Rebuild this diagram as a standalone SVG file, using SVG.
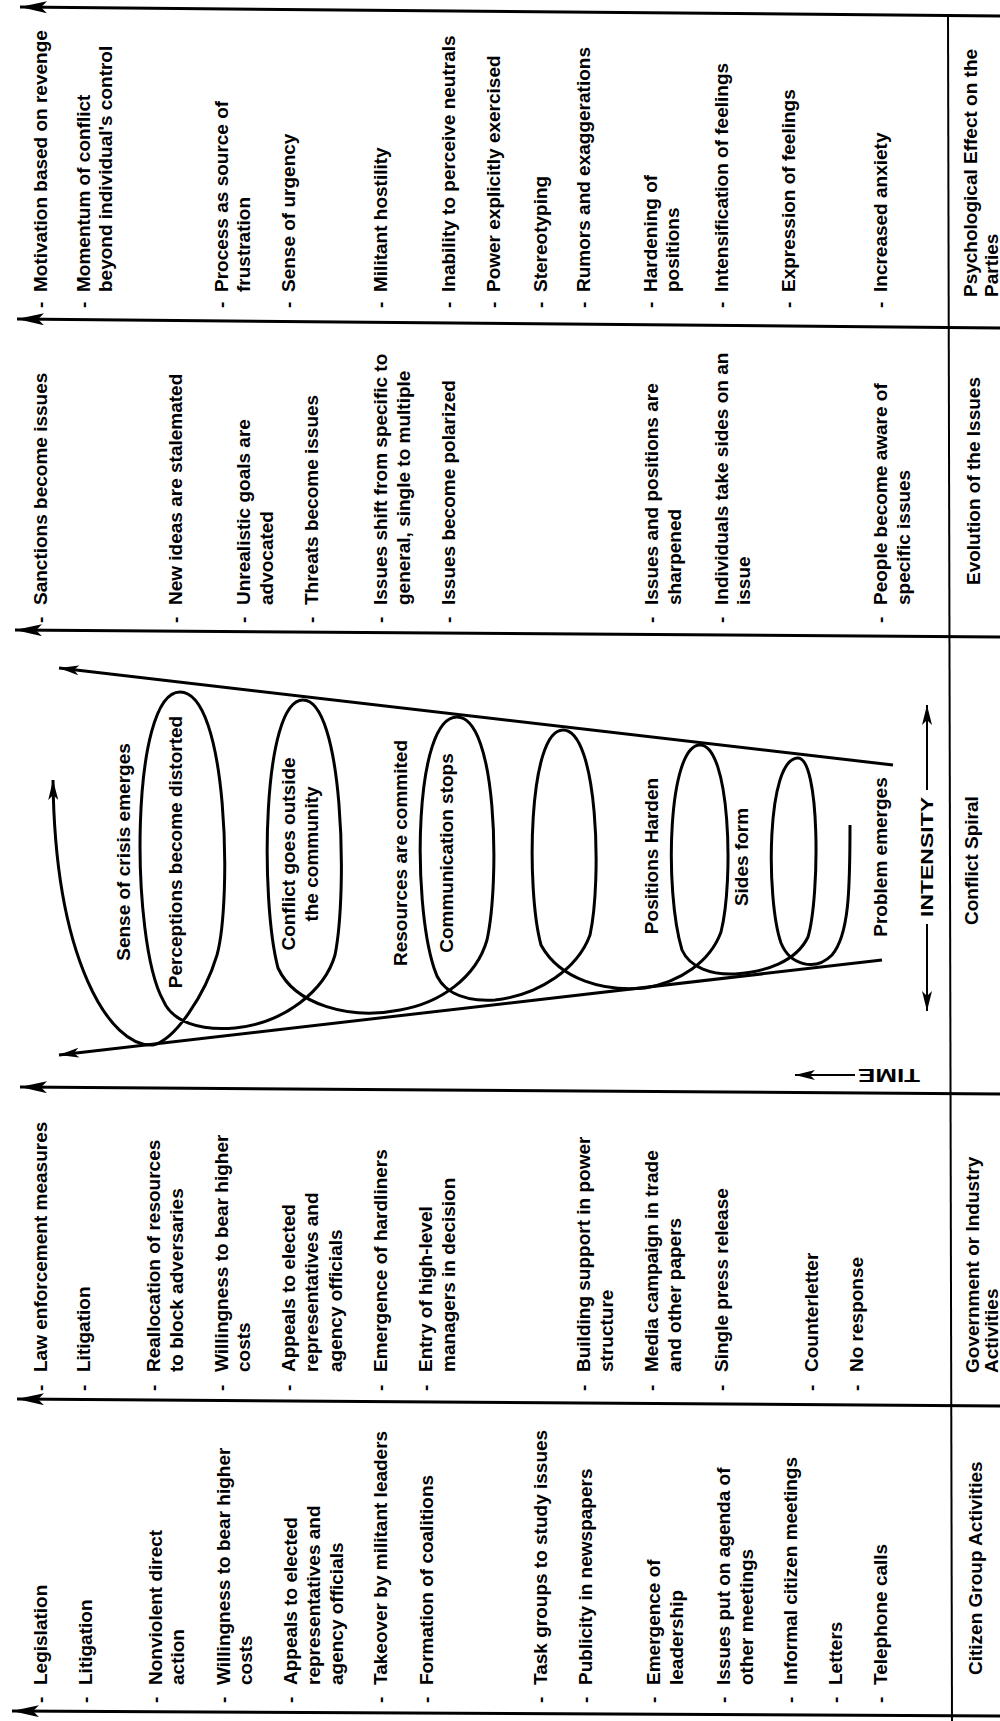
<svg xmlns="http://www.w3.org/2000/svg" width="1000" height="1721" viewBox="0 0 1000 1721">
<defs>
<style>
.t{font-family:"Liberation Sans",Arial,sans-serif;font-size:19px;font-weight:bold;fill:#000}
.m{text-anchor:middle}
.rule{stroke:#000;stroke-width:3;fill:none}
.sp{stroke:#000;stroke-width:3;fill:none;stroke-linejoin:round}
.thin{stroke:#000;stroke-width:2;fill:none}
</style>
<marker id="big" viewBox="0 0 27 12" refX="27" refY="6" markerWidth="27" markerHeight="12" markerUnits="userSpaceOnUse" orient="auto"><path d="M0,0 L27,6 L0,12 L6,6 Z" fill="#000"/></marker>
<marker id="sm" viewBox="0 0 20 10" refX="20" refY="5" markerWidth="20" markerHeight="10" markerUnits="userSpaceOnUse" orient="auto"><path d="M0,0 L20,5 L0,10 L5,5 Z" fill="#000"/></marker>
</defs>
<rect width="1000" height="1721" fill="#fff"/>

<g id="connectors">
<path class="rule" d="M1000,16 L20,7" marker-end="url(#big)"/>
<path class="rule" d="M1000,328 L17,319" marker-end="url(#big)"/>
<path class="rule" d="M1000,637 L15,630" marker-end="url(#big)"/>
<path class="rule" d="M1000,1094 L20,1087" marker-end="url(#big)"/>
<path class="rule" d="M1000,1406 L17,1399" marker-end="url(#big)"/>
<path class="rule" d="M1000,1716 L12,1711" marker-end="url(#big)"/>
<path class="thin" d="M948,14 L952,1721"/>
<path class="sp" d="M893,765 L59,668" marker-end="url(#sm)"/>
<path class="sp" d="M882,960 L59,1055" marker-end="url(#sm)"/>
<path class="sp" d="M850,825 C850,890 849,935 832,955 C815,972 790,965 781,943 C766,900 766,758 798,758 C820,758 820,895 808,937 C796,962 765,972 735,974 C712,975 690,968 682,950 C664,890 668,745 700,745 C730,745 734,880 721,932 C710,962 680,982 645,988 C605,992 560,980 541,945 C526,890 528,730 563,730 C598,730 602,880 590,935 C578,968 540,995 495,1000 C460,1002 440,990 434,968 C412,900 414,717 457,717 C497,717 500,880 487,940 C476,978 440,1003 400,1010 C350,1020 295,1005 278,968 C260,900 262,700 303,700 C343,700 348,890 335,955 C325,990 285,1023 235,1028 C200,1031 172,1022 163,1000 C130,940 130,692 180,692 C228,692 232,900 217,955 C205,995 175,1040 153,1045 C110,1048 55,960 53,780" marker-end="url(#sm)"/>
<path class="thin" d="M927,790 L927,705" marker-end="url(#sm)"/>
<path class="thin" d="M927,924 L927,1011" marker-end="url(#sm)"/>
<path class="thin" d="M855,1075 L795,1075" marker-end="url(#sm)"/>
</g>

<g id="label-psych"><text class="t" transform="translate(977,297) rotate(-90)"><tspan x="0" y="0">Psychological Effect on the</tspan><tspan x="0" y="21">Parties</tspan></text></g>
<g id="label-evolution"><text class="t" transform="translate(980,585) rotate(-90)">Evolution of the Issues</text></g>
<g id="label-spiral"><text class="t" transform="translate(978,925) rotate(-90)">Conflict Spiral</text></g>
<g id="label-gov"><text class="t" transform="translate(979,1373) rotate(-90)"><tspan x="0" y="0">Government or Industry</tspan><tspan x="0" y="19">Activities</tspan></text></g>
<g id="label-citizen"><text class="t" transform="translate(982,1675) rotate(-90)">Citizen Group Activities</text></g>

<g id="psych">
<g id="p1"><text class="t" transform="translate(47,308) rotate(-90)">-</text><text class="t" transform="translate(47,292) rotate(-90)">Motivation based on revenge</text></g>
<g id="p2"><text class="t" transform="translate(90,308) rotate(-90)">-</text><text class="t" transform="translate(90,292) rotate(-90)"><tspan x="0" y="0">Momentum of conflict</tspan><tspan x="0" y="22">beyond individual's control</tspan></text></g>
<g id="p3"><text class="t" transform="translate(228,308) rotate(-90)">-</text><text class="t" transform="translate(228,292) rotate(-90)"><tspan x="0" y="0">Process as source of</tspan><tspan x="0" y="22">frustration</tspan></text></g>
<g id="p4"><text class="t" transform="translate(295,308) rotate(-90)">-</text><text class="t" transform="translate(295,292) rotate(-90)">Sense of urgency</text></g>
<g id="p5"><text class="t" transform="translate(387,308) rotate(-90)">-</text><text class="t" transform="translate(387,292) rotate(-90)">Militant hostility</text></g>
<g id="p6"><text class="t" transform="translate(455,308) rotate(-90)">-</text><text class="t" transform="translate(455,292) rotate(-90)">Inability to perceive neutrals</text></g>
<g id="p7"><text class="t" transform="translate(500,308) rotate(-90)">-</text><text class="t" transform="translate(500,292) rotate(-90)">Power explicitly exercised</text></g>
<g id="p8"><text class="t" transform="translate(547,308) rotate(-90)">-</text><text class="t" transform="translate(547,292) rotate(-90)">Stereotyping</text></g>
<g id="p9"><text class="t" transform="translate(590,308) rotate(-90)">-</text><text class="t" transform="translate(590,292) rotate(-90)">Rumors and exaggerations</text></g>
<g id="p10"><text class="t" transform="translate(657,308) rotate(-90)">-</text><text class="t" transform="translate(657,292) rotate(-90)"><tspan x="0" y="0">Hardening of</tspan><tspan x="0" y="22">positions</tspan></text></g>
<g id="p11"><text class="t" transform="translate(728,308) rotate(-90)">-</text><text class="t" transform="translate(728,292) rotate(-90)">Intensification of feelings</text></g>
<g id="p12"><text class="t" transform="translate(795,308) rotate(-90)">-</text><text class="t" transform="translate(795,292) rotate(-90)">Expression of feelings</text></g>
<g id="p13"><text class="t" transform="translate(887,308) rotate(-90)">-</text><text class="t" transform="translate(887,292) rotate(-90)">Increased anxiety</text></g>
</g>

<g id="evolution">
<g id="e1"><text class="t" transform="translate(47,623) rotate(-90)">-</text><text class="t" transform="translate(47,605) rotate(-90)">Sanctions become issues</text></g>
<g id="e2"><text class="t" transform="translate(182,623) rotate(-90)">-</text><text class="t" transform="translate(182,605) rotate(-90)">New ideas are stalemated</text></g>
<g id="e3"><text class="t" transform="translate(250,623) rotate(-90)">-</text><text class="t" transform="translate(250,605) rotate(-90)"><tspan x="0" y="0">Unrealistic goals are</tspan><tspan x="0" y="23">advocated</tspan></text></g>
<g id="e4"><text class="t" transform="translate(318,623) rotate(-90)">-</text><text class="t" transform="translate(318,605) rotate(-90)">Threats become issues</text></g>
<g id="e5"><text class="t" transform="translate(387,623) rotate(-90)">-</text><text class="t" transform="translate(387,605) rotate(-90)"><tspan x="0" y="0">Issues shift from specific to</tspan><tspan x="0" y="23">general, single to multiple</tspan></text></g>
<g id="e6"><text class="t" transform="translate(455,623) rotate(-90)">-</text><text class="t" transform="translate(455,605) rotate(-90)">Issues become polarized</text></g>
<g id="e7"><text class="t" transform="translate(658,623) rotate(-90)">-</text><text class="t" transform="translate(658,605) rotate(-90)"><tspan x="0" y="0">Issues and positions are</tspan><tspan x="0" y="23">sharpened</tspan></text></g>
<g id="e8"><text class="t" transform="translate(728,623) rotate(-90)">-</text><text class="t" transform="translate(728,605) rotate(-90)"><tspan x="0" y="0">Individuals take sides on an</tspan><tspan x="0" y="22">issue</tspan></text></g>
<g id="e9"><text class="t" transform="translate(887,623) rotate(-90)">-</text><text class="t" transform="translate(887,605) rotate(-90)"><tspan x="0" y="0">People become aware of</tspan><tspan x="0" y="23">specific issues</tspan></text></g>
</g>

<g id="spiral-labels">
<g id="s1"><text class="t m" transform="translate(130,852) rotate(-90)">Sense of crisis emerges</text></g>
<g id="s2"><text class="t m" transform="translate(182,852) rotate(-90)">Perceptions become distorted</text></g>
<g id="s3"><text class="t m" transform="translate(295,854) rotate(-90)"><tspan x="0" y="0">Conflict goes outside</tspan><tspan x="0" y="23">the community</tspan></text></g>
<g id="s4"><text class="t m" transform="translate(407,853) rotate(-90)">Resources are commited</text></g>
<g id="s5"><text class="t m" transform="translate(453,853) rotate(-90)">Communication stops</text></g>
<g id="s6"><text class="t m" transform="translate(658,856) rotate(-90)">Positions Harden</text></g>
<g id="s7"><text class="t m" transform="translate(748,857) rotate(-90)">Sides form</text></g>
<g id="s8"><text class="t m" transform="translate(887,857) rotate(-90)">Problem emerges</text></g>
<g id="intensity"><text class="t m" style="font-size:17px" transform="translate(933,857) rotate(-90)" textLength="120" lengthAdjust="spacingAndGlyphs">INTENSITY</text></g>
<g id="time"><text class="t" transform="translate(920,1069) rotate(180)" textLength="62" lengthAdjust="spacingAndGlyphs">TIME</text></g>
</g>

<g id="government">
<g id="g1"><text class="t" transform="translate(47,1391) rotate(-90)">-</text><text class="t" transform="translate(47,1372) rotate(-90)">Law enforcement measures</text></g>
<g id="g2"><text class="t" transform="translate(90,1391) rotate(-90)">-</text><text class="t" transform="translate(90,1372) rotate(-90)">Litigation</text></g>
<g id="g3"><text class="t" transform="translate(160,1391) rotate(-90)">-</text><text class="t" transform="translate(160,1372) rotate(-90)"><tspan x="0" y="0">Reallocation of resources</tspan><tspan x="0" y="23">to block adversaries</tspan></text></g>
<g id="g4"><text class="t" transform="translate(228,1391) rotate(-90)">-</text><text class="t" transform="translate(228,1372) rotate(-90)"><tspan x="0" y="0">Willingness to bear higher</tspan><tspan x="0" y="22">costs</tspan></text></g>
<g id="g5"><text class="t" transform="translate(295,1391) rotate(-90)">-</text><text class="t" transform="translate(295,1372) rotate(-90)"><tspan x="0" y="0">Appeals to elected</tspan><tspan x="0" y="23">representatives and</tspan><tspan x="0" y="47">agency officials</tspan></text></g>
<g id="g6"><text class="t" transform="translate(387,1391) rotate(-90)">-</text><text class="t" transform="translate(387,1372) rotate(-90)">Emergence of hardliners</text></g>
<g id="g7"><text class="t" transform="translate(432,1391) rotate(-90)">-</text><text class="t" transform="translate(432,1372) rotate(-90)"><tspan x="0" y="0">Entry of high-level</tspan><tspan x="0" y="23">managers in decision</tspan></text></g>
<g id="g8"><text class="t" transform="translate(590,1391) rotate(-90)">-</text><text class="t" transform="translate(590,1372) rotate(-90)"><tspan x="0" y="0">Building support in power</tspan><tspan x="0" y="23">structure</tspan></text></g>
<g id="g9"><text class="t" transform="translate(658,1391) rotate(-90)">-</text><text class="t" transform="translate(658,1372) rotate(-90)"><tspan x="0" y="0">Media campaign in trade</tspan><tspan x="0" y="23">and other papers</tspan></text></g>
<g id="g10"><text class="t" transform="translate(728,1391) rotate(-90)">-</text><text class="t" transform="translate(728,1372) rotate(-90)">Single press release</text></g>
<g id="g11"><text class="t" transform="translate(818,1391) rotate(-90)">-</text><text class="t" transform="translate(818,1372) rotate(-90)">Counterletter</text></g>
<g id="g12"><text class="t" transform="translate(863,1391) rotate(-90)">-</text><text class="t" transform="translate(863,1372) rotate(-90)">No response</text></g>
</g>

<g id="citizen">
<g id="c1"><text class="t" transform="translate(47,1703) rotate(-90)">-</text><text class="t" transform="translate(47,1685) rotate(-90)">Legislation</text></g>
<g id="c2"><text class="t" transform="translate(92,1703) rotate(-90)">-</text><text class="t" transform="translate(92,1685) rotate(-90)">Litigation</text></g>
<g id="c3"><text class="t" transform="translate(162,1703) rotate(-90)">-</text><text class="t" transform="translate(162,1685) rotate(-90)"><tspan x="0" y="0">Nonviolent direct</tspan><tspan x="0" y="22">action</tspan></text></g>
<g id="c4"><text class="t" transform="translate(230,1703) rotate(-90)">-</text><text class="t" transform="translate(230,1685) rotate(-90)"><tspan x="0" y="0">Willingness to bear higher</tspan><tspan x="0" y="22">costs</tspan></text></g>
<g id="c5"><text class="t" transform="translate(297,1703) rotate(-90)">-</text><text class="t" transform="translate(297,1685) rotate(-90)"><tspan x="0" y="0">Appeals to elected</tspan><tspan x="0" y="23">representatives and</tspan><tspan x="0" y="46">agency officials</tspan></text></g>
<g id="c6"><text class="t" transform="translate(387,1703) rotate(-90)">-</text><text class="t" transform="translate(387,1685) rotate(-90)">Takeover by militant leaders</text></g>
<g id="c7"><text class="t" transform="translate(433,1703) rotate(-90)">-</text><text class="t" transform="translate(433,1685) rotate(-90)">Formation of coalitions</text></g>
<g id="c8"><text class="t" transform="translate(547,1703) rotate(-90)">-</text><text class="t" transform="translate(547,1685) rotate(-90)">Task groups to study issues</text></g>
<g id="c9"><text class="t" transform="translate(592,1703) rotate(-90)">-</text><text class="t" transform="translate(592,1685) rotate(-90)">Publicity in newspapers</text></g>
<g id="c10"><text class="t" transform="translate(660,1703) rotate(-90)">-</text><text class="t" transform="translate(660,1685) rotate(-90)"><tspan x="0" y="0">Emergence of</tspan><tspan x="0" y="23">leadership</tspan></text></g>
<g id="c11"><text class="t" transform="translate(730,1703) rotate(-90)">-</text><text class="t" transform="translate(730,1685) rotate(-90)"><tspan x="0" y="0">Issues put on agenda of</tspan><tspan x="0" y="23">other meetings</tspan></text></g>
<g id="c12"><text class="t" transform="translate(797,1703) rotate(-90)">-</text><text class="t" transform="translate(797,1685) rotate(-90)">Informal citizen meetings</text></g>
<g id="c13"><text class="t" transform="translate(842,1703) rotate(-90)">-</text><text class="t" transform="translate(842,1685) rotate(-90)">Letters</text></g>
<g id="c14"><text class="t" transform="translate(887,1703) rotate(-90)">-</text><text class="t" transform="translate(887,1685) rotate(-90)">Telephone calls</text></g>
</g>
</svg>
